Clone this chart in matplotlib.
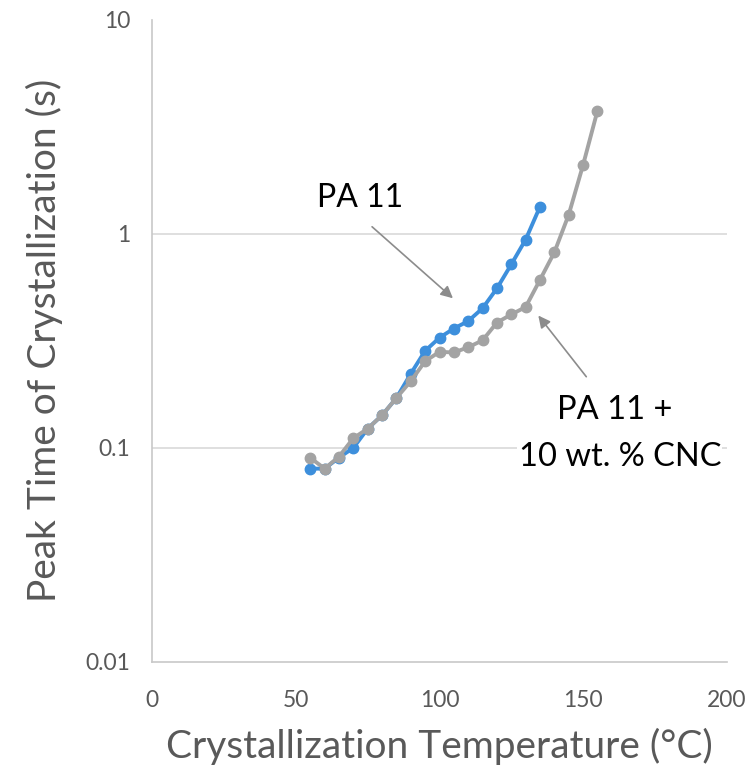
import matplotlib
matplotlib.use("Agg")
import matplotlib.pyplot as plt
from matplotlib.ticker import FixedLocator, FixedFormatter, NullLocator

plt.rcParams['font.family'] = ['Lato', 'DejaVu Sans']

# crystallization temperature (C) and peak time (s)
temp_pa11 = [55, 60, 65, 70, 75, 80, 85, 90, 95, 100, 105, 110, 115, 120, 125, 130, 135]
time_pa11 = [0.080, 0.080, 0.090, 0.100, 0.123, 0.142, 0.171, 0.222, 0.284, 0.327, 0.361,
             0.391, 0.449, 0.556, 0.72, 0.94, 1.34]

temp_cnc = [55, 60, 65, 70, 75, 80, 85, 90, 95, 100, 105, 110, 115, 120, 125, 130, 135,
            140, 145, 150, 155]
time_cnc = [0.090, 0.080, 0.091, 0.111, 0.123, 0.142, 0.171, 0.205, 0.254, 0.281, 0.279,
            0.295, 0.318, 0.385, 0.42, 0.455, 0.61, 0.82, 1.23, 2.10, 3.76]

y_ticks = [0.01, 0.1, 1, 10]
y_labels = ["0.01", "0.1", "1", "10"]
x_ticks = [0, 50, 100, 150, 200]

blue = "#3d8fdc"
grey = "#a3a3a3"
txt = "#595959"

fig = plt.figure(figsize=(7.5, 7.72), dpi=100)
ax = fig.add_axes([0.203, 0.1425, 0.766, 0.832])

ax.set_yscale("log")
ax.set_xlim(0, 200)
ax.set_ylim(0.01, 10)

for g in [0.1, 1]:
    ax.axhline(g, color="#d9d9d9", lw=1.2, zorder=0)

ax.plot(temp_pa11, time_pa11, color=blue, lw=2.8, marker="o", ms=7.5, zorder=2)
ax.plot(temp_cnc, time_cnc, color=grey, lw=2.8, marker="o", ms=7.5, zorder=3)

ax.yaxis.set_major_locator(FixedLocator(y_ticks))
ax.yaxis.set_major_formatter(FixedFormatter(y_labels))
ax.yaxis.set_minor_locator(NullLocator())
ax.set_xticks(x_ticks)
ax.tick_params(length=0, labelsize=16.5, labelcolor=txt)
ax.tick_params(axis="x", pad=20)
ax.tick_params(axis="y", pad=16)

for s in ["top", "right"]:
    ax.spines[s].set_visible(False)
for s in ["left", "bottom"]:
    ax.spines[s].set_color("#c8c8c8")
    ax.spines[s].set_linewidth(1.2)

ax.set_xlabel("Crystallization Temperature (°C)", fontsize=28, color=txt)
ax.set_ylabel("Peak Time of Crystallization (s)", fontsize=28, color=txt)
ax.xaxis.set_label_coords(0.5, -0.103)
ax.yaxis.set_label_coords(-0.155, 0.5)

arrow = dict(arrowstyle="-|>", color="#8c8c8c", lw=1.2, mutation_scale=18)
ax.annotate("", xy=(105.4, 0.49), xytext=(75.8, 1.10), arrowprops=arrow)
ax.annotate("", xy=(133.8, 0.425), xytext=(151.7, 0.21), arrowprops=arrow)

box = dict(facecolor="white", edgecolor="none", pad=1)
ax.text(72.5, 1.47, "PA 11", fontsize=23, ha="center", va="center", color="black")
ax.text(161.0, 0.151, "PA 11 +", fontsize=23.5, ha="center", va="center", color="black")
ax.text(162.8, 0.0905, "10 wt. % CNC", fontsize=23.5, ha="center", va="center",
        color="black", bbox=box, zorder=4)

fig.savefig("out.png", dpi=100)
